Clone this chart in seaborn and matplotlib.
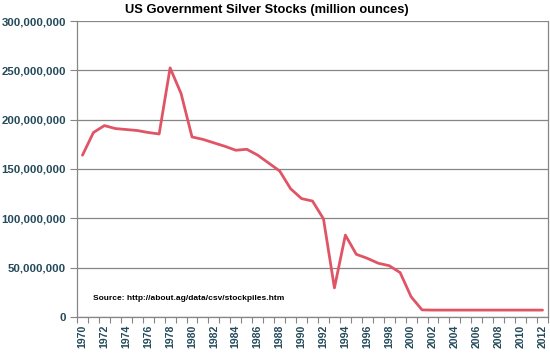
import matplotlib.pyplot as plt
import matplotlib.ticker as mticker
import pandas as pd
import seaborn as sns

years = list(range(1970, 2013))
stocks_millions = [
    164, 187, 194, 191, 190, 189, 187, 185.5, 252.5, 226.5,
    182.5, 180, 176.5, 173, 169, 170, 164, 156, 148, 130,
    120, 117.5, 99.5, 29.5, 83, 63.5, 59.5, 54.5, 52, 45,
    20.5, 7.2, 7, 7, 7, 7, 7, 7, 7, 7,
    7, 7, 7,
]
y_ticks = [0, 50_000_000, 100_000_000, 150_000_000, 200_000_000, 250_000_000, 300_000_000]

TITLE = "US Government Silver Stocks (million ounces)"
SOURCE = "Source: http://about.ag/data/csv/stockpiles.htm"

LINE_COLOR = "#E05566"
LABEL_COLOR = "#244A5A"
GRID_COLOR = "#868686"

df = pd.DataFrame({"year": years, "stock": [v * 1_000_000 for v in stocks_millions]})

sns.set_theme(style="white")
plt.rcParams["font.family"] = ["Liberation Sans", "DejaVu Sans"]

fig = plt.figure(figsize=(5.5, 3.53), dpi=100)
ax = fig.add_axes([0.14, 0.102, 0.8564, 0.8385])

sns.lineplot(data=df, x="year", y="stock", color=LINE_COLOR, linewidth=2.0, ax=ax)

ax.set_xlim(1969.5, 2012.5)
ax.set_ylim(0, 300_000_000)
ax.set_yticks(y_ticks)
ax.yaxis.set_major_formatter(mticker.FuncFormatter(lambda v, _: f"{int(v):,}"))
ax.grid(axis="y", color=GRID_COLOR, linewidth=0.9)
ax.set_axisbelow(True)

# year labels every 2 years, tick marks on every category boundary
ax.set_xticks(years[::2])
ax.set_xticklabels([str(y) for y in years[::2]], rotation=90)
ax.set_xticks([y - 0.5 for y in years] + [years[-1] + 0.5], minor=True)
ax.tick_params(axis="x", which="major", length=0, pad=5.5,
               labelsize=7.6, labelcolor=LABEL_COLOR)
ax.tick_params(axis="x", which="minor", length=4, width=0.8,
               color=GRID_COLOR, direction="out", bottom=True)
ax.tick_params(axis="y", length=5, width=0.8, color=GRID_COLOR,
               direction="out", left=True, pad=3,
               labelsize=8.2, labelcolor=LABEL_COLOR)
for lab in ax.get_xticklabels() + ax.get_yticklabels():
    lab.set_fontweight("bold")

ax.set_xlabel("")
ax.set_ylabel("")
for side in ["left", "right", "bottom"]:
    ax.spines[side].set_visible(True)
    ax.spines[side].set_color(GRID_COLOR)
    ax.spines[side].set_linewidth(0.9)
ax.spines["top"].set_visible(False)

ax.text(1971.0, 17_500_000, SOURCE, fontsize=6.0, fontweight="bold", color="black")
fig.text(0.4845, 0.972, TITLE, ha="center", va="center",
         fontsize=9.3, fontweight="bold", color="black")

fig.savefig("out.png", dpi=100)
